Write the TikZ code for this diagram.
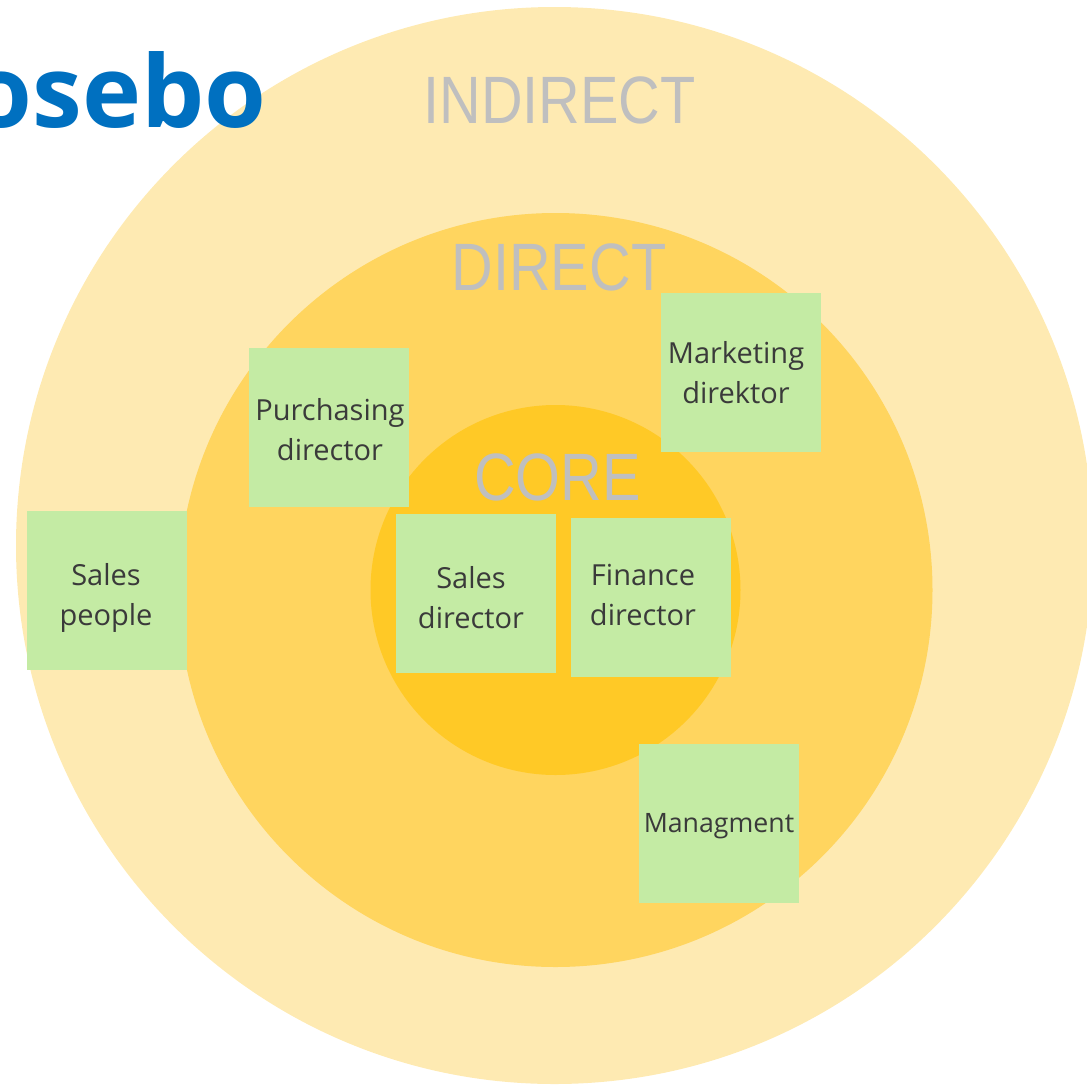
\documentclass[tikz,border=0pt]{standalone}
\usepackage{fontspec}
\setmainfont{Open Sans}
\newfontfamily\lblfont{Liberation Sans}
\definecolor{ringout}{HTML}{FEEAB2}
\definecolor{ringmid}{HTML}{FFD55F}
\definecolor{ringcore}{HTML}{FFC926}
\definecolor{notefill}{HTML}{C4EBA4}
\definecolor{notetext}{HTML}{3A3A3A}
\definecolor{lblgray}{HTML}{BFBFBF}
\definecolor{titleblue}{HTML}{0070C0}
\begin{document}
\begin{tikzpicture}[x=1pt,y=-1pt,
  note/.style={rectangle, fill=notefill, draw=none, minimum width=160pt, minimum height=159pt, inner sep=0pt},
  notetxt/.style={align=center, text=notetext, inner sep=0pt, font=\fontsize{29}{40}\selectfont},
  ringlbl/.style={anchor=base, text=lblgray, inner sep=0pt, font=\lblfont\fontsize{67}{67}\selectfont},
]
\useasboundingbox (0,0) rectangle (1087,1085);
\clip (0,0) rectangle (1087,1085);

% rings
\fill[ringout] (554.5,545.5) circle[radius=538.5pt];
\fill[ringmid] (555.5,590) circle[radius=377pt];
\fill[ringcore] (555.5,590) circle[radius=185pt];

% title
\node[anchor=base east, inner sep=0pt, text=titleblue, font=\bfseries\fontsize{100}{100}\selectfont] (title) at (267,127) {osebo};

% ring labels
\node[ringlbl] (indirect) at (559.5,123) {\scalebox{0.86}[1]{INDIRECT}};
\node[ringlbl] (direct) at (559,290) {\scalebox{0.86}[1]{DIRECT}};
\node[ringlbl] (core) at (557.5,500) {\scalebox{0.86}[1]{CORE}};

% sticky notes
\node[note] (purch) at (329,427.5) {};
\node[note] (market) at (741,372) {};
\node[note] (salesp) at (106.5,590) {};
\node[note] (salesd) at (475.5,593.5) {};
\node[note] (fin) at (650.5,597) {};
\node[note] (mgmt) at (719,823.5) {};

\node[notetxt] (purch-t) at (330,430) {Purchasing\\director};
\node[notetxt] (market-t) at (736,373) {Marketing\\direktor};
\node[notetxt] (salesp-t) at (106,598) {Sales\\people};
\node[notetxt] (salesd-t) at (471,598) {Sales\\director};
\node[notetxt] (fin-t) at (643,595) {Finance\\director};
\node[notetxt, font=\fontsize{26.7}{40}\selectfont] (mgmt-t) at (719,826) {Managment};
\end{tikzpicture}
\end{document}
